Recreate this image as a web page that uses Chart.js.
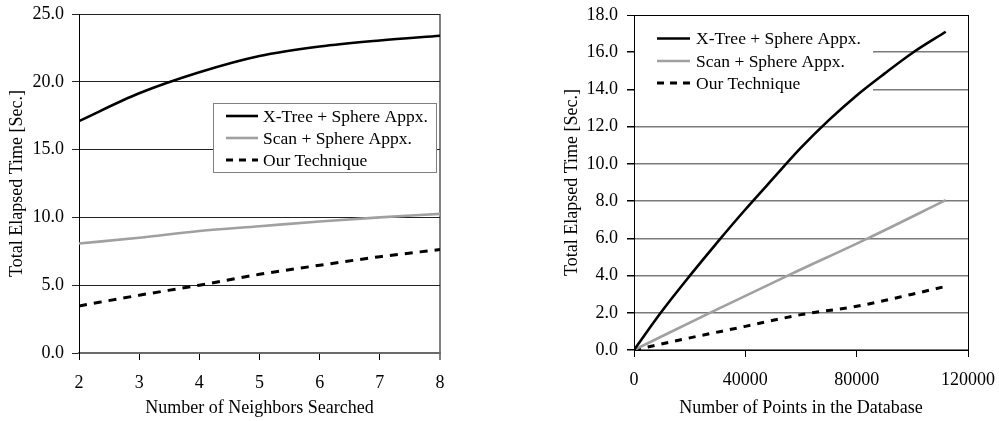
<!DOCTYPE html>
<html><head><meta charset="utf-8">
<script src="https://cdn.jsdelivr.net/npm/chart.js@4/dist/chart.umd.min.js"></script>
<style>
html,body{margin:0;padding:0;background:#fff;width:999px;height:421px;overflow:hidden}
canvas{position:absolute;top:0}
#c1{left:0}
#c2{left:500px}
</style></head><body>
<canvas id="c1" width="495" height="421"></canvas>
<canvas id="c2" width="499" height="421"></canvas>
<script>
// ---- data ----
const seriesNames = ['X-Tree + Sphere Appx.', 'Scan + Sphere Appx.', 'Our Technique'];
const neighbors = [2, 3, 4, 5, 6, 7, 8];
const xtreeByK = [17.1, 19.15, 20.7, 21.9, 22.6, 23.05, 23.4];
const scanByK = [8.07, 8.5, 9.0, 9.35, 9.7, 10.0, 10.26];
const oursByK = [3.47, 4.26, 5.0, 5.8, 6.47, 7.1, 7.63];

const sizesXTree = [0, 10000, 20000, 30000, 40000, 50000, 60000, 70000, 80000, 90000, 100000, 112000];
const xtreeBySize = [0, 2.08, 3.98, 5.8, 7.55, 9.22, 10.87, 12.35, 13.68, 14.85, 15.96, 17.1];
const sizesScan = [0, 28000, 56000, 84000, 112000];
const scanBySize = [0, 2.05, 4.05, 6.0, 8.05];
const sizesOurs = [0, 20000, 40000, 60000, 80000, 100000, 112000];
const oursBySize = [0, 0.65, 1.27, 1.9, 2.35, 3.0, 3.42];

const leftXTicks = [2, 3, 4, 5, 6, 7, 8];
const leftYTicks = [0, 5, 10, 15, 20, 25];
const rightXTicks = [0, 40000, 80000, 120000];
const rightYTicks = [0, 2, 4, 6, 8, 10, 12, 14, 16, 18];

const xTitleLeft = 'Number of Neighbors Searched';
const xTitleRight = 'Number of Points in the Database';
const yTitle = 'Total Elapsed Time [Sec.]';

// ---- helpers ----
const FONT = "'Liberation Serif', 'Times New Roman', serif";
Chart.defaults.font.family = FONT;
Chart.defaults.font.size = 18;
Chart.defaults.color = '#000';

function pts(xs, ys) { return xs.map((x, i) => ({ x: x, y: ys[i] })); }
function setTicks(arr) { return s => { s.ticks = arr.map(v => ({ value: v })); }; }

const legendPlugin = {
  id: 'boxLegend',
  beforeDatasetsDraw(chart, args, o) {
    const ctx = chart.ctx;
    ctx.save();
    ctx.fillStyle = '#fff';
    ctx.fillRect(o.x, o.y, o.w, o.h);
    if (o.border) {
      ctx.strokeStyle = o.border; ctx.lineWidth = 1;
      ctx.strokeRect(o.x + 0.5, o.y + 0.5, o.w, o.h);
    }
    ctx.restore();
  },
  afterDatasetsDraw(chart, args, o) {
    const ctx = chart.ctx;
    ctx.save();
    chart.data.datasets.forEach((ds, i) => {
      const y = o.rows[i];
      ctx.beginPath();
      ctx.strokeStyle = ds.borderColor;
      ctx.lineWidth = ds.borderWidth;
      ctx.setLineDash(ds.legendDash || []);
      ctx.moveTo(o.sx, y); ctx.lineTo(o.sx + o.sw, y);
      ctx.stroke();
      ctx.setLineDash([]);
      ctx.fillStyle = '#000';
      ctx.font = o.fontSize + 'px ' + FONT;
      ctx.textBaseline = 'middle';
      ctx.textAlign = 'left';
      ctx.fillText(ds.label, o.tx, y + 1);
    });
    ctx.restore();
  }
};

function makeDatasets(d1, d2, d3, dash) {
  return [
    { label: seriesNames[0], data: d1, borderColor: '#000', borderWidth: 2.6, tension: 0.4, cubicInterpolationMode: 'monotone', pointRadius: 0, fill: false },
    { label: seriesNames[1], data: d2, borderColor: '#a0a0a0', borderWidth: 2.6, tension: 0.4, cubicInterpolationMode: 'monotone', pointRadius: 0, fill: false },
    { label: seriesNames[2], data: d3, borderColor: '#000', borderWidth: 3, borderDash: dash, legendDash: [7, 6], tension: 0.4, cubicInterpolationMode: 'monotone', pointRadius: 0, fill: false }
  ];
}

// ---- left chart ----
new Chart(document.getElementById('c1'), {
  type: 'line',
  data: { datasets: makeDatasets(pts(neighbors, xtreeByK), pts(neighbors, scanByK), pts(neighbors, oursByK), [8, 7]) },
  options: {
    responsive: false, animation: false, devicePixelRatio: 1,
    layout: { padding: { left: 0, top: 14, right: 55, bottom: 0 } },
    plugins: {
      legend: { display: false }, tooltip: { enabled: false },
      boxLegend: { x: 213, y: 103, w: 223, h: 69, border: '#808080', sx: 226, sw: 32, tx: 263, rows: [116, 138, 160], fontSize: 17.5 }
    },
    scales: {
      x: {
        type: 'linear', min: 2, max: 8,
        afterBuildTicks: setTicks(leftXTicks),
        afterFit: s => { s.height = 68; s.paddingLeft = 0; s.paddingRight = 0; },
        ticks: { padding: 12, callback: v => String(v) },
        grid: {
          color: c => (c.tick && c.tick.value === 8) ? '#808080' : 'rgba(0,0,0,0)',
          lineWidth: c => (c.tick && c.tick.value === 8) ? 2 : 1,
          tickColor: '#000', tickLength: 7, tickWidth: 1
        },
        border: { display: true, color: '#6a6a6a', width: 2 },
        title: { display: true, text: xTitleLeft, padding: { top: 0, bottom: 2 }, font: { size: 18 } }
      },
      y: {
        type: 'linear', min: 0, max: 25,
        afterBuildTicks: setTicks(leftYTicks),
        afterFit: s => { s.width = 79; s.paddingTop = 0; s.paddingBottom = 0; },
        ticks: { padding: 8, callback: v => Number(v).toFixed(1) },
        grid: { color: '#222', lineWidth: 1, tickColor: '#222', tickLength: 7 },
        border: { display: true, color: '#000', width: 1 },
        title: { display: true, text: yTitle, padding: { top: 6, bottom: 0 }, font: { size: 18 } }
      }
    }
  },
  plugins: [legendPlugin]
});

// ---- right chart ----
new Chart(document.getElementById('c2'), {
  type: 'line',
  data: { datasets: makeDatasets(pts(sizesXTree, xtreeBySize), pts(sizesScan, scanBySize), pts(sizesOurs, oursBySize), [7, 7]) },
  options: {
    responsive: false, animation: false, devicePixelRatio: 1,
    layout: { padding: { left: 55, top: 15, right: 31, bottom: 0 } },
    plugins: {
      legend: { display: false }, tooltip: { enabled: false },
      boxLegend: { x: 135, y: 22, w: 238, h: 78, border: null, sx: 157, sw: 33, tx: 196, rows: [38.5, 61, 83], fontSize: 17.5 }
    },
    scales: {
      x: {
        type: 'linear', min: 0, max: 120000,
        afterBuildTicks: setTicks(rightXTicks),
        afterFit: s => { s.height = 71; s.paddingLeft = 0; s.paddingRight = 0; },
        ticks: { padding: 12, callback: v => String(v) },
        grid: {
          color: c => (c.tick && c.tick.value === 120000) ? '#000' : 'rgba(0,0,0,0)',
          lineWidth: 1, tickColor: '#000', tickLength: 7, tickWidth: 1
        },
        border: { display: true, color: '#000', width: 1 },
        title: { display: true, text: xTitleRight, padding: { top: 0, bottom: 2 }, font: { size: 18 } }
      },
      y: {
        type: 'linear', min: 0, max: 18,
        afterBuildTicks: setTicks(rightYTicks),
        afterFit: s => { s.width = 79; s.paddingTop = 0; s.paddingBottom = 0; },
        ticks: { padding: 9, callback: v => Number(v).toFixed(1) },
        grid: {
          color: c => (c.tick && c.tick.value === 18) ? '#000' : '#7a7a7a',
          lineWidth: c => (c.tick && c.tick.value === 18) ? 1 : 1.5,
          tickColor: '#000', tickLength: 7
        },
        border: { display: true, color: '#000', width: 1 },
        title: { display: true, text: yTitle, padding: { top: 6, bottom: 0 }, font: { size: 18 } }
      }
    }
  },
  plugins: [legendPlugin]
});
</script>
</body></html>
